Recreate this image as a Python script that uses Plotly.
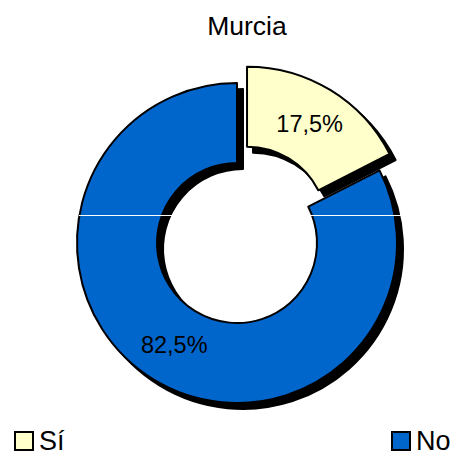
import plotly.graph_objects as go

categories = ["Sí", "No"]
values = [17.5, 82.5]
labels_text = ["17,5%", "82,5%"]
colors = ["#FFFFCC", "#0066CC"]
title_text = "Murcia"

# page body has an 8px margin: the figure is drawn 8px in from the window edge
OFF = 8
W, H = 458 - OFF, 459 - OFF
cx, cy = 237 - OFF, 243 - OFF   # pie centre in figure px (from top-left)
r = 160                         # outer radius px
pull = 0.12
half = r * (1 + pull)
shadow = 6

def px(x):
    return (x - OFF) / W

def py(y):
    return (H - (y - OFF)) / H

def dom(dx=0, dy=0):
    x0 = (cx + dx - half) / W
    x1 = (cx + dx + half) / W
    yb = H - (cy + dy)
    y0 = (yb - half) / H
    y1 = (yb + half) / H
    return dict(x=[x0, x1], y=[y0, y1])

fig = go.Figure()
# shadow
fig.add_trace(go.Pie(
    labels=categories, values=values, sort=False, direction="clockwise", rotation=0,
    hole=0.5, pull=[pull, 0], domain=dom(shadow, shadow),
    marker=dict(colors=["black", "black"], line=dict(color="black", width=2)),
    textinfo="none", showlegend=False, hoverinfo="skip"))
# main
fig.add_trace(go.Pie(
    labels=categories, values=values, sort=False, direction="clockwise", rotation=0,
    hole=0.5, pull=[pull, 0], domain=dom(),
    marker=dict(colors=colors, line=dict(color="black", width=2)),
    text=labels_text, textinfo="text", textposition="inside",
    insidetextorientation="horizontal",
    textfont=dict(family="Liberation Sans, Arial", size=23.5, color="black"),
    showlegend=False))

shapes = [dict(type="line", xref="paper", yref="paper",
               x0=px(79), x1=px(401), y0=py(215.5), y1=py(215.5),
               line=dict(color="white", width=1))]
annotations = []
# manual legend
leg_pos = [(15, 432), (392, 432)]
for (lx, ly), cat, col in zip(leg_pos, categories, colors):
    shapes.append(dict(type="rect", xref="paper", yref="paper",
                       x0=px(lx), x1=px(lx + 18), y0=py(ly + 18), y1=py(ly),
                       fillcolor=col, line=dict(color="black", width=2)))
    annotations.append(dict(text=cat, xref="paper", yref="paper",
                            x=px(lx + 22), y=py(ly + 9),
                            xanchor="left", yanchor="middle", showarrow=False,
                            font=dict(family="Liberation Sans, Arial", size=27, color="black")))

fig.update_layout(
    width=W, height=H,
    margin=dict(l=0, r=0, t=0, b=0),
    paper_bgcolor="white", plot_bgcolor="white",
    title=dict(text=title_text, x=px(247), xanchor="center", y=py(26), yanchor="middle",
               font=dict(family="Liberation Sans, Arial", size=26.5, color="black")),
    shapes=shapes, annotations=annotations, showlegend=False,
)

fig.write_html("out.html")
